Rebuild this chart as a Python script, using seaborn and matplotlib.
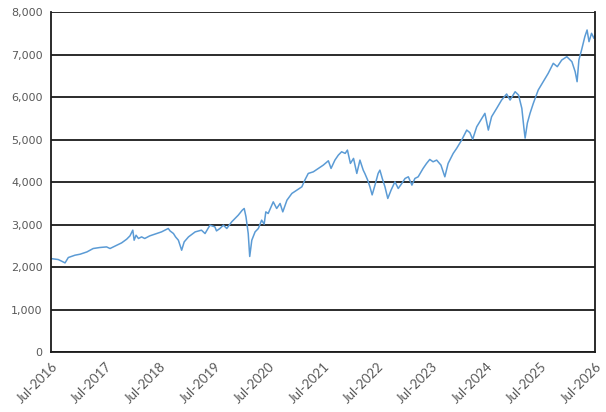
import pandas as pd
import numpy as np
import matplotlib.pyplot as plt
import matplotlib.dates as mdates
from matplotlib.ticker import FuncFormatter, MultipleLocator
import seaborn as sns

# values
dates = [
    '2016-07-01', '2016-08-18', '2016-09-11', '2016-10-03', '2016-10-25', '2016-12-09',
    '2017-01-12', '2017-02-27', '2017-04-10', '2017-05-25', '2017-07-09', '2017-08-01',
    '2017-09-15', '2017-10-18', '2017-11-21', '2017-12-13', '2018-01-01', '2018-01-10',
    '2018-01-23', '2018-02-08', '2018-03-01', '2018-03-22', '2018-04-25', '2018-05-28',
    '2018-07-13', '2018-08-27', '2018-09-08', '2018-10-01', '2018-10-15', '2018-11-03',
    '2018-11-25', '2018-12-12', '2019-01-10', '2019-02-24', '2019-04-07', '2019-05-01',
    '2019-06-03', '2019-07-06', '2019-07-17', '2019-08-09', '2019-09-01', '2019-09-24',
    '2019-10-27', '2019-12-10', '2020-01-06', '2020-01-19', '2020-01-31', '2020-02-15',
    '2020-02-25', '2020-03-10', '2020-04-01', '2020-04-23', '2020-05-15', '2020-06-01',
    '2020-06-12', '2020-06-28', '2020-08-01', '2020-08-24', '2020-09-16', '2020-10-04',
    '2020-11-01', '2020-12-04', '2021-01-06', '2021-02-09', '2021-03-01', '2021-03-24',
    '2021-04-27', '2021-05-31', '2021-07-03', '2021-08-06', '2021-08-24', '2021-09-19',
    '2021-10-12', '2021-11-03', '2021-11-27', '2021-12-12', '2022-01-01', '2022-01-22',
    '2022-02-13', '2022-03-06', '2022-03-28', '2022-04-08', '2022-04-27', '2022-05-12',
    '2022-05-27', '2022-06-15', '2022-07-06', '2022-07-18', '2022-08-03', '2022-08-21',
    '2022-09-09', '2022-10-01', '2022-10-27', '2022-11-18', '2022-12-12', '2023-01-03',
    '2023-01-25', '2023-02-18', '2023-03-10', '2023-04-01', '2023-05-04', '2023-05-27',
    '2023-06-18', '2023-07-10', '2023-08-03', '2023-09-01', '2023-09-27', '2023-10-19',
    '2023-11-22', '2023-12-15', '2024-01-18', '2024-02-21', '2024-03-13', '2024-04-01',
    '2024-04-28', '2024-06-01', '2024-06-22', '2024-07-15', '2024-08-06', '2024-09-09',
    '2024-10-12', '2024-11-15', '2024-12-08', '2025-01-11', '2025-02-03', '2025-02-25',
    '2025-03-10', '2025-03-19', '2025-04-03', '2025-04-21', '2025-05-13', '2025-06-15',
    '2025-07-18', '2025-08-21', '2025-09-24', '2025-10-21', '2025-11-20', '2025-12-24',
    '2026-01-27', '2026-02-18', '2026-03-03', '2026-03-15', '2026-04-02', '2026-04-24',
    '2026-05-09', '2026-05-22', '2026-06-08', '2026-06-24', '2026-07-01',
]
values = [
    2200, 2178, 2138, 2098, 2225, 2280,
    2303, 2357, 2437, 2461, 2475, 2437,
    2515, 2570, 2657, 2735, 2870, 2633,
    2750, 2673, 2711, 2673, 2735, 2775,
    2829, 2909, 2852, 2790, 2711, 2633,
    2397, 2593, 2711, 2829, 2869, 2790,
    2987, 2947, 2852, 2909, 2987, 2909,
    3065, 3222, 3340, 3380, 3183, 2790,
    2250, 2633, 2829, 2909, 3105, 3010,
    3300, 3262, 3536, 3380, 3498, 3300,
    3576, 3734, 3812, 3890, 4048, 4205,
    4243, 4323, 4401, 4503, 4323, 4519,
    4637, 4715, 4677, 4755, 4441, 4559,
    4205, 4519, 4283, 4204, 4048, 3890,
    3700, 3930, 4204, 4283, 4087, 3890,
    3616, 3812, 4008, 3851, 3969, 4087,
    4126, 3930, 4087, 4126, 4323, 4440,
    4535, 4479, 4519, 4401, 4126, 4440,
    4676, 4794, 4990, 5226, 5166, 5010,
    5304, 5502, 5620, 5226, 5541, 5737,
    5933, 6075, 5933, 6129, 6051, 5737,
    5304, 5037, 5391, 5620, 5855, 6169,
    6365, 6562, 6798, 6719, 6876, 6954,
    6837, 6601, 6365, 6876, 7112, 7426,
    7583, 7308, 7505, 7387, 7465,
]
tick_years = list(range(2016, 2027))

df = pd.DataFrame({'Date': pd.to_datetime(dates), 'Value': values})

sns.set_style("white")
plt.rcParams['font.family'] = ['DejaVu Sans']

fig = plt.figure(figsize=(6.06, 4.12), dpi=100)
ax = fig.add_axes([0.0842, 0.1456, 0.8976, 0.8246])

sns.lineplot(data=df, x='Date', y='Value', ax=ax, color='#5B9BD5', linewidth=1.1)

ax.set_xlim(pd.Timestamp('2016-07-01'), pd.Timestamp('2026-07-01'))
ax.set_ylim(0, 8000)
ax.yaxis.set_major_locator(MultipleLocator(1000))
ax.yaxis.set_major_formatter(FuncFormatter(lambda v, p: f'{int(v):,}'))
ax.set_xticks([pd.Timestamp(f'{y}-07-01') for y in tick_years])
ax.xaxis.set_major_formatter(mdates.DateFormatter('%b-%Y'))

ax.grid(axis='y', color='#1a1a1a', linewidth=1.3)
ax.set_axisbelow(True)
ax.set_xlabel('')
ax.set_ylabel('')
for side in ['left', 'bottom', 'right']:
    ax.spines[side].set_color('#1a1a1a')
    ax.spines[side].set_linewidth(1.3)
ax.spines['top'].set_visible(False)

ax.tick_params(axis='both', direction='out', length=4, width=1.2, color='#1a1a1a',
               labelsize=8, labelcolor='#595959', pad=2)
for lbl in ax.get_xticklabels():
    lbl.set_family(['Lato', 'DejaVu Sans'])
    lbl.set_fontsize(9.5)
plt.setp(ax.get_xticklabels(), rotation=45, ha='right', rotation_mode='anchor')

fig.savefig('out.png', dpi=100)
plt.close(fig)
